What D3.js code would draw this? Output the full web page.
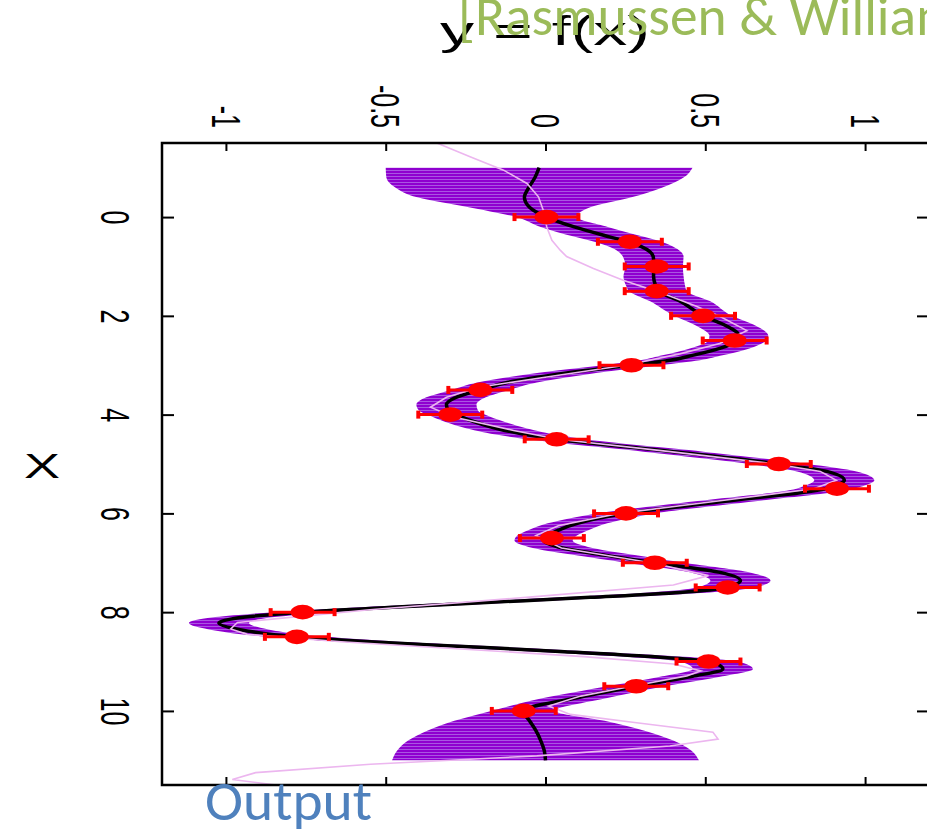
<!DOCTYPE html>
<html><head><meta charset="utf-8">
<script src="https://cdn.jsdelivr.net/npm/d3@7"></script>
<style>html,body{margin:0;padding:0;background:#fff;overflow:hidden}svg{display:block}</style>
</head><body>
<svg id="c" width="927" height="833"></svg>
<script>
// ---------- data ----------
const xTicks = [0, 2, 4, 6, 8, 10];
const yTicks = [-1, -0.5, 0, 0.5, 1];
const yTickLabels = ["-1", "-0.5", "0", "0.5", "1"];

// observations (input, output, half error)
const obsX = [0, 0.5, 1, 1.5, 2, 2.5, 3, 3.5, 4, 4.5, 5, 5.5, 6, 6.5, 7, 7.5, 8, 8.5, 9, 9.5, 10];
const obsY = [0.003, 0.264, 0.348, 0.348, 0.493, 0.592, 0.269, -0.204, -0.298, 0.035, 0.73, 0.912, 0.252, 0.02, 0.342, 0.57, -0.76, -0.778, 0.51, 0.284, -0.068];
const obsErr = [0.1, 0.1, 0.1, 0.1, 0.1, 0.1, 0.1, 0.1, 0.1, 0.1, 0.1, 0.1, 0.1, 0.1, 0.1, 0.1, 0.1, 0.1, 0.1, 0.1, 0.1];

// posterior mean and band half-width
const gridX = [-1.0, -0.8, -0.6, -0.4, -0.2, 0.0, 0.2, 0.4, 0.5, 0.6, 0.8, 1.0, 1.2, 1.4, 1.5, 1.7, 2.0, 2.2, 2.4, 2.5, 2.66, 2.8, 2.9, 3.0, 3.12, 3.25, 3.35, 3.5, 3.65, 3.8, 3.92, 4.0, 4.15, 4.28, 4.42, 4.5, 4.75, 5.0, 5.15, 5.33, 5.45, 5.5, 5.75, 6.0, 6.2, 6.34, 6.45, 6.55, 6.68, 6.85, 7.0, 7.2, 7.36, 7.5, 7.6, 7.7, 7.8, 7.9, 8.0, 8.1, 8.22, 8.35, 8.5, 8.6, 8.7, 8.8, 8.9, 9.0, 9.15, 9.3, 9.5, 9.75, 10.0, 10.2, 10.4, 10.6, 10.8, 11.0];
const meanY = [-0.02, -0.033, -0.052, -0.066, -0.05, 0.003, 0.09, 0.2, 0.258, 0.3, 0.337, 0.34, 0.338, 0.345, 0.352, 0.42, 0.493, 0.565, 0.605, 0.6, 0.545, 0.46, 0.39, 0.27, 0.108, -0.03, -0.12, -0.204, -0.28, -0.31, -0.303, -0.28, -0.22, -0.152, -0.048, 0.035, 0.4, 0.73, 0.88, 0.935, 0.9, 0.875, 0.57, 0.252, 0.1, 0.04, 0.005, -0.006, 0.04, 0.19, 0.342, 0.55, 0.61, 0.565, 0.42, 0.14, -0.17, -0.48, -0.76, -0.94, -1.022, -0.96, -0.778, -0.55, -0.24, 0.06, 0.33, 0.51, 0.555, 0.46, 0.284, 0.086, -0.07, -0.05, -0.03, -0.015, -0.004, 0.0];
const bandHalf = [0.48, 0.465, 0.418, 0.335, 0.19, 0.095, 0.105, 0.108, 0.105, 0.1, 0.095, 0.09, 0.094, 0.092, 0.09, 0.094, 0.09, 0.093, 0.092, 0.09, 0.093, 0.094, 0.093, 0.09, 0.092, 0.094, 0.093, 0.09, 0.093, 0.094, 0.092, 0.09, 0.093, 0.094, 0.092, 0.09, 0.094, 0.09, 0.093, 0.094, 0.092, 0.09, 0.094, 0.09, 0.093, 0.094, 0.093, 0.091, 0.093, 0.094, 0.09, 0.093, 0.094, 0.09, 0.093, 0.095, 0.095, 0.094, 0.09, 0.093, 0.094, 0.093, 0.09, 0.093, 0.095, 0.095, 0.094, 0.09, 0.094, 0.094, 0.09, 0.1, 0.1, 0.235, 0.34, 0.415, 0.46, 0.48];

// true function (thin pink line)
const truthX = [-1.5, -1.22, -0.95, -0.68, -0.41, -0.14, 0.2, 0.47, 0.67, 0.8, 1.04, 1.28, 1.55, 1.8, 2.01, 2.3, 2.56, 2.77, 3.0, 3.24, 3.44, 3.65, 3.85, 4.05, 4.32, 4.5, 4.75, 5.0, 5.15, 5.33, 5.5, 5.75, 6.0, 6.25, 6.45, 6.7, 7.0, 7.26, 7.45, 7.7, 7.95, 8.21, 8.34, 8.45, 8.6, 8.72, 8.9, 9.05, 9.19, 9.29, 9.5, 9.7, 9.9, 10.07, 10.24, 10.43, 10.57, 10.71, 10.91, 11.08, 11.25, 11.39, 11.6];
const truthY = [-0.34, -0.236, -0.131, -0.058, -0.022, -0.007, 0.004, 0.02, 0.046, 0.066, 0.15, 0.243, 0.368, 0.47, 0.545, 0.63, 0.545, 0.42, 0.25, 0.004, -0.204, -0.31, -0.36, -0.288, -0.1, 0.04, 0.39, 0.72, 0.86, 0.91, 0.84, 0.54, 0.23, 0.04, -0.03, 0.05, 0.33, 0.51, 0.4, -0.06, -0.55, -0.964, -0.985, -0.933, -0.64, -0.33, 0.12, 0.4, 0.486, 0.442, 0.27, 0.11, 0.01, 0.078, 0.285, 0.524, 0.54, 0.389, -0.027, -0.548, -0.907, -0.98, -0.72];

// ---------- layout ----------
const svg = d3.select("#c");
const L = 162, T = 143, R = 929, B = 785;
const xs = d3.scaleLinear().domain([-1.5, 11.5]).range([T, B]);   // input -> vertical
const ys = d3.scaleLinear().domain([-1.2, 1.2]).range([L, R]);    // output -> horizontal
const STRETCH = 1.65, TF = 25;

const defs = svg.append("defs");
defs.append("clipPath").attr("id", "plotclip").append("rect")
  .attr("x", L).attr("y", T).attr("width", R - L).attr("height", B - T);
const pat = defs.append("pattern").attr("id", "stripes")
  .attr("patternUnits", "userSpaceOnUse").attr("width", 10).attr("height", 3);
pat.append("rect").attr("width", 10).attr("height", 3).attr("fill", "#8f00cf");
pat.append("rect").attr("y", 2).attr("width", 10).attr("height", 1).attr("fill", "#aa55e2");

const plot = svg.append("g").attr("clip-path", "url(#plotclip)");

const band = gridX.map((g, i) => ({x: g, m: meanY[i], h: bandHalf[i]}));

plot.append("path").datum(band)
  .attr("fill", "url(#stripes)")
  .attr("d", d3.area().y(d => xs(d.x)).x0(d => ys(d.m - d.h)).x1(d => ys(d.m + d.h)).curve(d3.curveMonotoneY));

plot.append("path").datum(band)
  .attr("fill", "none").attr("stroke", "#000").attr("stroke-width", 3.5)
  .attr("d", d3.line().y(d => xs(d.x)).x(d => ys(d.m)).curve(d3.curveMonotoneY));

plot.append("path").datum(truthX.map((t, i) => [t, truthY[i]]))
  .attr("fill", "none").attr("stroke", "#ecb6ef").attr("stroke-width", 1.6)
  .attr("stroke-linejoin", "miter")
  .attr("d", d3.line().y(d => xs(d[0])).x(d => ys(d[1])));

// error bars and points
const obs = obsX.map((o, i) => ({x: o, y: obsY[i], e: obsErr[i]}));
const eb = plot.append("g").attr("stroke", "#ff0000");
eb.selectAll("line.bar").data(obs).join("line").attr("class", "bar")
  .attr("x1", d => ys(d.y - d.e)).attr("x2", d => ys(d.y + d.e))
  .attr("y1", d => xs(d.x)).attr("y2", d => xs(d.x)).attr("stroke-width", 3);
eb.selectAll("line.capl").data(obs).join("line").attr("class", "capl")
  .attr("x1", d => ys(d.y - d.e)).attr("x2", d => ys(d.y - d.e))
  .attr("y1", d => xs(d.x) - 4).attr("y2", d => xs(d.x) + 4).attr("stroke-width", 4);
eb.selectAll("line.capr").data(obs).join("line").attr("class", "capr")
  .attr("x1", d => ys(d.y + d.e)).attr("x2", d => ys(d.y + d.e))
  .attr("y1", d => xs(d.x) - 4).attr("y2", d => xs(d.x) + 4).attr("stroke-width", 4);
plot.append("g").selectAll("ellipse").data(obs).join("ellipse")
  .attr("cx", d => ys(d.y)).attr("cy", d => xs(d.x)).attr("rx", 12).attr("ry", 7.3)
  .attr("fill", "#ff0000");

// ---------- axes ----------
function styleAxis(g) {
  g.select(".domain").remove();
  g.selectAll(".tick line").attr("stroke", "#000").attr("stroke-width", 2);
}
const fontFam = "'Liberation Sans', Arial, sans-serif";

// left (input) axis with rotated labels
const gl = svg.append("g").attr("transform", `translate(${L},0)`)
  .call(d3.axisLeft(xs).tickValues(xTicks).tickSize(-12).tickSizeOuter(0).tickFormat(d3.format("d")));
styleAxis(gl);
gl.selectAll(".tick text")
  .attr("x", null).attr("dy", null)
  .attr("fill", "#000").attr("font-family", fontFam).attr("font-size", TF)
  .attr("text-anchor", "middle")
  .attr("transform", `translate(${101 - L},0) scale(${STRETCH},1) rotate(90)`);

// right mirror ticks
const gr = svg.append("g").attr("transform", `translate(${R},0)`)
  .call(d3.axisRight(xs).tickValues(xTicks).tickSize(-12).tickSizeOuter(0).tickFormat(""));
styleAxis(gr);

// top (output) axis with rotated labels
const gt = svg.append("g").attr("transform", `translate(0,${T})`)
  .call(d3.axisTop(ys).tickValues(yTicks).tickSize(-8).tickSizeOuter(0).tickFormat((d, i) => yTickLabels[i]));
styleAxis(gt);
gt.selectAll(".tick text")
  .attr("y", null).attr("dy", null)
  .attr("fill", "#000").attr("font-family", fontFam).attr("font-size", TF)
  .attr("text-anchor", "end")
  .attr("transform", `translate(${-0.358 * TF * STRETCH},${128 - T}) scale(${STRETCH},1) rotate(90)`);

// bottom mirror ticks
const gb = svg.append("g").attr("transform", `translate(0,${B})`)
  .call(d3.axisBottom(ys).tickValues(yTicks).tickSize(-8).tickSizeOuter(0).tickFormat(""));
styleAxis(gb);

// frame
svg.append("rect").attr("x", L).attr("y", T).attr("width", R - L).attr("height", B - T)
  .attr("fill", "none").attr("stroke", "#000").attr("stroke-width", 2.5);

// ---------- labels ----------
svg.append("text").text("X")
  .attr("transform", "translate(42,478) scale(1.5,1)")
  .attr("text-anchor", "middle").attr("font-family", fontFam).attr("font-size", 36).attr("fill", "#000");

svg.append("text").text("y = f(x)")
  .attr("x", 440).attr("y", 45)
  .attr("textLength", 210).attr("lengthAdjust", "spacingAndGlyphs")
  .attr("font-family", fontFam).attr("font-size", 41).attr("fill", "#000");

const slideFont = "Carlito, Lato, 'Open Sans', sans-serif";
svg.append("text").text("[Rasmussen & Williams]")
  .attr("x", 458).attr("y", 35)
  .attr("textLength", 541).attr("lengthAdjust", "spacingAndGlyphs")
  .attr("font-family", slideFont).attr("font-size", 55).attr("fill", "#9bbb59");

svg.append("text").text("Output")
  .attr("x", 205).attr("y", 820)
  .attr("textLength", 167).attr("lengthAdjust", "spacingAndGlyphs")
  .attr("font-family", slideFont).attr("font-size", 55).attr("fill", "#4f81bd");
</script>
</body></html>
